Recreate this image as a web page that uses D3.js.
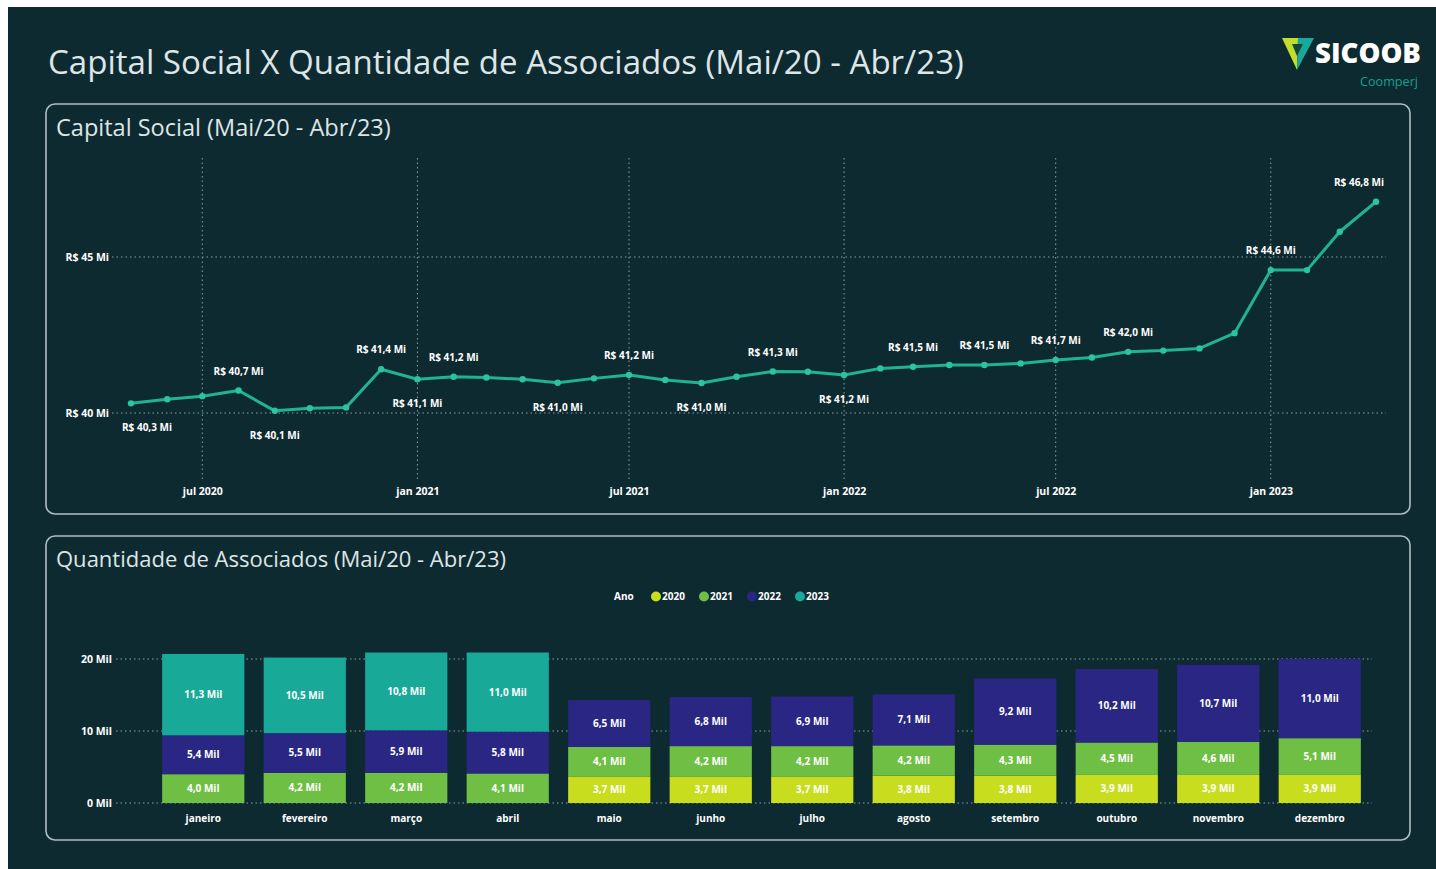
<!DOCTYPE html>
<html><head><meta charset="utf-8">
<script src="https://cdn.jsdelivr.net/npm/d3@7/dist/d3.min.js"></script>
<style>
html,body{margin:0;padding:0;background:#ffffff;}
svg{display:block;font-family:"Open Sans","Noto Sans",sans-serif;}
</style></head>
<body>
<svg id="chart" width="1436" height="869"></svg>
<script>
// ---------- DATA ----------
const capitalMonths = ["2020-05","2020-06","2020-07","2020-08","2020-09","2020-10","2020-11","2020-12",
  "2021-01","2021-02","2021-03","2021-04","2021-05","2021-06","2021-07","2021-08","2021-09","2021-10","2021-11","2021-12",
  "2022-01","2022-02","2022-03","2022-04","2022-05","2022-06","2022-07","2022-08","2022-09","2022-10","2022-11","2022-12",
  "2023-01","2023-02","2023-03","2023-04"];
const capitalValues = [40.31,40.44,40.54,40.72,40.07,40.15,40.18,41.40,
  41.08,41.16,41.14,41.08,40.97,41.11,41.22,41.06,40.96,41.16,41.33,41.32,
  41.22,41.43,41.48,41.54,41.54,41.59,41.70,41.78,41.96,42.00,42.07,42.56,
  44.58,44.58,45.81,46.77];
// labelled points: index -> "a" (above) or "b" (below)
const capitalLabels = {0:"b",3:"a",4:"b",7:"a",8:"b",9:"a",12:"b",14:"a",16:"b",18:"a",20:"b",22:"a",24:"a",26:"a",28:"a",32:"a",35:"a"};
const capitalYTicks = [40,45];

const monthNames = ["janeiro","fevereiro","março","abril","maio","junho","julho","agosto","setembro","outubro","novembro","dezembro"];
const years = ["2020","2021","2022","2023"];
const assoc2020 = [null,null,null,null,3.7,3.7,3.7,3.8,3.8,3.9,3.9,3.9];
const assoc2021 = [4.0,4.2,4.2,4.1,4.1,4.2,4.2,4.2,4.3,4.5,4.6,5.1];
const assoc2022 = [5.4,5.5,5.9,5.8,6.5,6.8,6.9,7.1,9.2,10.2,10.7,11.0];
const assoc2023 = [11.3,10.5,10.8,11.0,null,null,null,null,null,null,null,null];
const assocYTicks = [0,10,20];

const yearColors = {"2020":"#c9dd1f","2021":"#70bf45","2022":"#2a2784","2023":"#19a998"};

// ---------- SETUP ----------
const svg = d3.select("#chart");
const BG = "#0e2a31";
const loc = d3.formatLocale({decimal:",", thousands:".", grouping:[3], currency:["R$ ",""]});
const f1 = loc.format(".1f");

svg.append("rect").attr("x",8).attr("y",7).attr("width",1428).attr("height",862).attr("fill",BG);

function fitText(sel, w){
  const cur = parseFloat(sel.attr("font-size"));
  const len = sel.node().getComputedTextLength();
  if(len>0) sel.attr("font-size", (cur*w/len).toFixed(2));
  return sel;
}

// Title
fitText(svg.append("text").attr("x",48).attr("y",74).attr("fill","#dde5e7")
  .attr("font-size",32).attr("font-weight",400)
  .text("Capital Social X Quantidade de Associados (Mai/20 - Abr/23)"), 916);

// Logo
const lg = svg.append("g");
lg.append("polygon").attr("points","1282,38 1298,38 1297,70").attr("fill","#c4dc2a");
lg.append("polygon").attr("points","1298,38 1314,38 1297,70").attr("fill","#1aa89a");
lg.append("polygon").attr("points","1292,44 1303,44 1297,56").attr("fill","#0f4a3c");
fitText(lg.append("text").attr("x",1315).attr("y",63).attr("fill","#ffffff")
  .attr("font-size",28).attr("font-weight",800).text("SICOOB"), 106);
fitText(lg.append("text").attr("x",1360).attr("y",86).attr("fill","#16a08f")
  .attr("font-size",9.5).attr("font-weight",400).text("Coomperj"), 58);

// Panels
function panel(x,y,w,h){
  svg.append("rect").attr("x",x).attr("y",y).attr("width",w).attr("height",h)
    .attr("rx",9).attr("fill",BG).attr("stroke","#aebfc2").attr("stroke-width",1.6);
}
panel(46,104,1364,410);
panel(46,536,1364,304);

fitText(svg.append("text").attr("x",56).attr("y",136).attr("fill","#dde5e7")
  .attr("font-size",21).text("Capital Social (Mai/20 - Abr/23)"), 335);
fitText(svg.append("text").attr("x",56).attr("y",567).attr("fill","#dde5e7")
  .attr("font-size",21).text("Quantidade de Associados (Mai/20 - Abr/23)"), 450);

const gridColor = "#8a9ea2";

// ---------- LINE CHART ----------
const parse = d3.timeParse("%Y-%m");
const lineData = capitalMonths.map((m,i)=>({date:parse(m), v:capitalValues[i], i}));
const x1 = d3.scaleTime().domain([lineData[0].date, lineData[lineData.length-1].date]).range([131,1376]);
const y1 = d3.scaleLinear().domain([38,48]).range([475.4,163.4]);

const g1 = svg.append("g");
const xTicks = x1.ticks(d3.timeMonth.every(6)).filter(d=>d.getMonth()===0||d.getMonth()===6);
const mAbbr = ["jan","fev","mar","abr","mai","jun","jul","ago","set","out","nov","dez"];
const xAxis = d3.axisBottom(x1).tickValues(xTicks)
  .tickFormat(d=>mAbbr[d.getMonth()]+" "+d.getFullYear()).tickSize(0).tickPadding(0);
const gx = g1.append("g").attr("transform","translate(0,495)").call(xAxis);
gx.select(".domain").remove();
gx.selectAll("text").attr("fill","#ffffff").attr("font-size",10.5).attr("font-weight",700)
  .attr("font-family","'Open Sans',sans-serif").attr("dy",0);
g1.selectAll(".vgrid").data(xTicks).join("line").attr("class","vgrid")
  .attr("x1",d=>x1(d)).attr("x2",d=>x1(d)).attr("y1",158).attr("y2",480)
  .attr("stroke",gridColor).attr("stroke-width",1).attr("stroke-dasharray","1.5,3");
const yAxis1 = d3.axisLeft(y1).tickValues(capitalYTicks).tickFormat(d=>"R$ "+d+" Mi").tickSize(0).tickPadding(0);
const gy = g1.append("g").attr("transform","translate(109,0)").call(yAxis1);
gy.select(".domain").remove();
gy.selectAll("text").attr("fill","#ffffff").attr("font-size",10.5).attr("font-weight",700)
  .attr("font-family","'Open Sans',sans-serif");
g1.selectAll(".hgrid").data(capitalYTicks).join("line").attr("class","hgrid")
  .attr("x1",112).attr("x2",1386).attr("y1",d=>y1(d)).attr("y2",d=>y1(d))
  .attr("stroke",gridColor).attr("stroke-width",1).attr("stroke-dasharray","1.5,3");

const lineColor = "#1fb394";
g1.append("path").datum(lineData)
  .attr("d", d3.line().x(d=>x1(d.date)).y(d=>y1(d.v)))
  .attr("fill","none").attr("stroke",lineColor).attr("stroke-width",3).attr("stroke-linejoin","round");
g1.selectAll(".pt").data(lineData).join("circle").attr("class","pt")
  .attr("cx",d=>x1(d.date)).attr("cy",d=>y1(d.v)).attr("r",3.2).attr("fill","#2cc39f");

const labData = lineData.filter(d=>capitalLabels[d.i]);
g1.selectAll(".lab").data(labData).join("text").attr("class","lab")
  .attr("x",d=>x1(d.date)).attr("y",d=>capitalLabels[d.i]==="a"? y1(d.v)-16 : y1(d.v)+28)
  .attr("text-anchor","middle").attr("fill","#ffffff").attr("font-size",10).attr("font-weight",700)
  .text(d=>"R$ "+f1(d.v)+" Mi")
  .each(function(){
    const t=d3.select(this); const w=this.getComputedTextLength(); const cx=+t.attr("x");
    if(cx-w/2<122) t.attr("x",122+w/2);
    if(cx+w/2>1384) t.attr("x",1384-w/2);
  });

// ---------- BAR CHART ----------
const seriesByYear = {"2020":assoc2020,"2021":assoc2021,"2022":assoc2022,"2023":assoc2023};
const barRows = monthNames.map((m,i)=>{
  const r={month:m}; years.forEach(y=>r[y]=seriesByYear[y][i]||0); return r;});
const stacked = d3.stack().keys(years)(barRows);
const x2 = d3.scaleBand().domain(monthNames).range([152.5,1370.5]).paddingInner(0.19).paddingOuter(0.095);
const y2 = d3.scaleLinear().domain([0,22]).range([803,644.6]);

const g2 = svg.append("g");
g2.selectAll(".hg2").data(assocYTicks).join("line").attr("class","hg2")
  .attr("x1",116).attr("x2",1372).attr("y1",d=>y2(d)).attr("y2",d=>y2(d))
  .attr("stroke",gridColor).attr("stroke-width",1).attr("stroke-dasharray","1.5,3");
const yAxis2 = d3.axisLeft(y2).tickValues(assocYTicks).tickFormat(d=>d+" Mil").tickSize(0).tickPadding(0);
const gy2 = g2.append("g").attr("transform","translate(112,0)").call(yAxis2);
gy2.select(".domain").remove();
gy2.selectAll("text").attr("fill","#ffffff").attr("font-size",10.5).attr("font-weight",700)
  .attr("font-family","'Open Sans',sans-serif");

const layers = g2.selectAll(".layer").data(stacked).join("g").attr("class","layer")
  .attr("fill",d=>yearColors[d.key]);
layers.selectAll("rect").data(d=>d.map(s=>({s,key:d.key}))).join("rect")
  .filter(d=>d.s[1]-d.s[0]>0)
  .attr("x",d=>x2(d.s.data.month)).attr("width",x2.bandwidth())
  .attr("y",d=>y2(d.s[1])).attr("height",d=>y2(d.s[0])-y2(d.s[1]));
layers.selectAll("text").data(d=>d.map(s=>({s,key:d.key})).filter(d=>d.s[1]-d.s[0]>0)).join("text")
  .attr("x",d=>x2(d.s.data.month)+x2.bandwidth()/2)
  .attr("y",d=>(y2(d.s[0])+y2(d.s[1]))/2+3.5)
  .attr("text-anchor","middle").attr("fill","#ffffff").attr("font-size",10).attr("font-weight",700)
  .text(d=>f1(d.s[1]-d.s[0])+" Mil");

const xAxis2 = d3.axisBottom(x2).tickSize(0).tickPadding(0);
const gx2 = g2.append("g").attr("transform","translate(0,822)").call(xAxis2);
gx2.select(".domain").remove();
gx2.selectAll("text").attr("fill","#ffffff").attr("font-size",10).attr("font-weight",700)
  .attr("font-family","'Open Sans',sans-serif").attr("dy",0);

// Legend
const leg = svg.append("g");
leg.append("text").attr("x",614).attr("y",600).attr("fill","#ffffff").attr("font-size",10).attr("font-weight",700).text("Ano");
const legX = [656,704,752,800];
years.forEach((y,i)=>{
  leg.append("circle").attr("cx",legX[i]).attr("cy",596.5).attr("r",5).attr("fill",yearColors[y]);
  leg.append("text").attr("x",legX[i]+6).attr("y",600).attr("fill","#ffffff").attr("font-size",10).attr("font-weight",700).text(y);
});
</script>
</body></html>
